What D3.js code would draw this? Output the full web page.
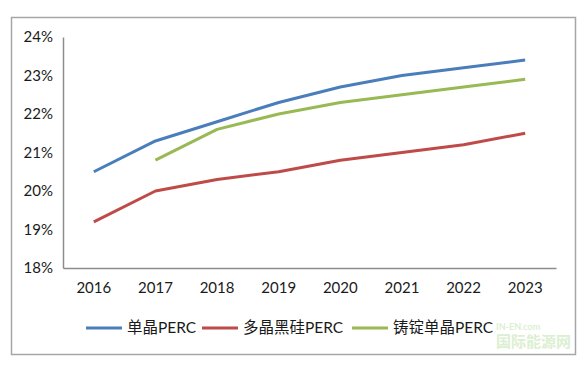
<!DOCTYPE html>
<html>
<head>
<meta charset="utf-8">
<script src="https://cdn.jsdelivr.net/npm/d3@7"></script>
<style>
  body { margin: 0; background: #fff; }
  text { font-family: Lato, "Noto Sans CJK SC", sans-serif; }
</style>
</head>
<body>
<svg id="chart" width="584" height="370"></svg>
<script>
const years = ["2016", "2017", "2018", "2019", "2020", "2021", "2022", "2023"];
const yTicks = [0.18, 0.19, 0.20, 0.21, 0.22, 0.23, 0.24];

const monoPerc = [0.205, 0.213, 0.218, 0.223, 0.227, 0.230, 0.232, 0.234];
const multiBlackPerc = [0.192, 0.200, 0.203, 0.205, 0.208, 0.210, 0.212, 0.215];
const castMonoPerc = [null, 0.208, 0.216, 0.220, 0.223, 0.225, 0.227, 0.229];

const seriesNames = ["单晶PERC", "多晶黑硅PERC", "铸锭单晶PERC"];
const seriesColors = ["#4A7EBB", "#BE4B48", "#98B954"];
const seriesData = [monoPerc, multiBlackPerc, castMonoPerc];

const svg = d3.select("#chart");

// outer chart frame
svg.append("rect")
  .attr("x", 11.5).attr("y", 17.5)
  .attr("width", 564).attr("height", 337)
  .attr("fill", "#fff")
  .attr("stroke", "#a6a6a6")
  .attr("stroke-width", 1.5);

const plot = { left: 63, right: 556, top: 37, bottom: 268 };

const x = d3.scaleBand()
  .domain(years)
  .range([plot.left, plot.right]);

const y = d3.scaleLinear()
  .domain([0.18, 0.24])
  .range([plot.bottom, plot.top]);

// y axis
const yAxis = svg.append("g")
  .attr("transform", `translate(${plot.left},0)`)
  .call(d3.axisLeft(y).tickValues(yTicks).tickFormat(d3.format(".0%")).tickSize(0).tickPadding(10));
yAxis.select(".domain").attr("stroke", "#8c8c8c").attr("stroke-width", 1.5);
yAxis.selectAll("text").attr("font-size", 15).attr("fill", "#1a1a1a");

// x axis
const xAxis = svg.append("g")
  .attr("transform", `translate(0,${plot.bottom})`)
  .call(d3.axisBottom(x).tickSize(0).tickPadding(14));
xAxis.select(".domain").attr("stroke", "#8c8c8c").attr("stroke-width", 1.5);
xAxis.selectAll("text").attr("font-size", 15).attr("fill", "#1a1a1a");

const line = d3.line()
  .defined(d => d.v != null)
  .x(d => x(d.year) + x.bandwidth() / 2)
  .y(d => y(d.v));

seriesData.forEach((vals, i) => {
  svg.append("path")
    .datum(vals.map((v, j) => ({ year: years[j], v })))
    .attr("fill", "none")
    .attr("stroke", seriesColors[i])
    .attr("stroke-width", 3)
    .attr("stroke-linejoin", "round")
    .attr("d", line);
});

// legend
const legendItems = [
  { lx: 86, name: seriesNames[0], color: seriesColors[0] },
  { lx: 202, name: seriesNames[1], color: seriesColors[1] },
  { lx: 352, name: seriesNames[2], color: seriesColors[2] }
];
const legend = svg.append("g").attr("transform", "translate(0,328)");
legendItems.forEach(d => {
  legend.append("line")
    .attr("x1", d.lx).attr("x2", d.lx + 36)
    .attr("stroke", d.color).attr("stroke-width", 3);
  legend.append("text")
    .attr("x", d.lx + 41).attr("y", 0)
    .attr("dy", "0.35em")
    .attr("font-size", 15.5)
    .attr("fill", "#1a1a1a")
    .text(d.name);
});

// watermark
const wm = svg.append("g").attr("opacity", 0.35);
wm.append("text").attr("x", 496).attr("y", 347)
  .attr("font-size", 15).attr("font-weight", "bold").attr("fill", "#9cd27d")
  .text("国际能源网");
wm.append("text").attr("x", 496).attr("y", 346 - 16)
  .attr("font-size", 9).attr("font-weight", "bold").attr("fill", "#9cd27d")
  .text("IN-EN.com");
</script>
</body>
</html>
